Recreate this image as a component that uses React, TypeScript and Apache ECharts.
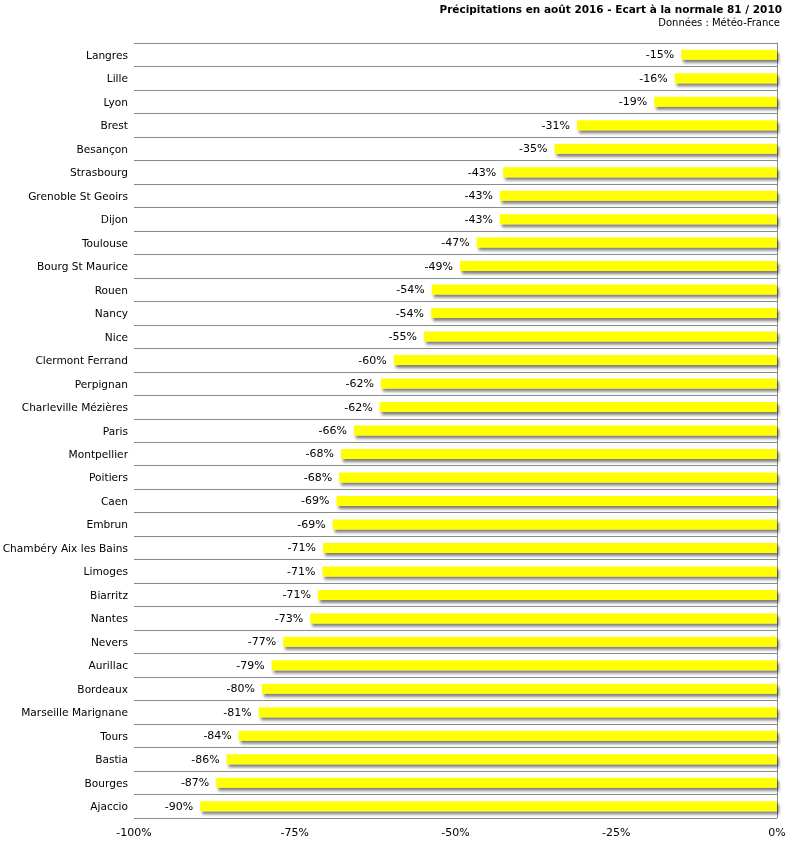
import React, { useEffect, useRef } from "react";
import * as echarts from "echarts";

const cities = [
  "Langres", "Lille", "Lyon", "Brest", "Besançon", "Strasbourg", "Grenoble St Geoirs", "Dijon",
  "Toulouse", "Bourg St Maurice", "Rouen", "Nancy", "Nice", "Clermont Ferrand", "Perpignan",
  "Charleville Mézières", "Paris", "Montpellier", "Poitiers", "Caen", "Embrun",
  "Chambéry Aix les Bains", "Limoges", "Biarritz", "Nantes", "Nevers", "Aurillac", "Bordeaux",
  "Marseille Marignane", "Tours", "Bastia", "Bourges", "Ajaccio",
];

const ecart = [
  -14.9, -15.9, -19.1, -31.1, -34.6, -42.6, -43.1, -43.1,
  -46.7, -49.3, -53.7, -53.8, -54.9, -59.6, -61.6,
  -61.8, -65.8, -67.8, -68.1, -68.5, -69.1,
  -70.6, -70.7, -71.4, -72.6, -76.8, -78.6, -80.1,
  -80.6, -83.7, -85.6, -87.2, -89.7,
];

const xTicks = [-100, -75, -50, -25, 0];

const titleText = "Précipitations en août 2016 - Ecart à la normale 81 / 2010";
const subtitleText = "Données : Météo-France";

const FONT = "'DejaVu Sans', Verdana, sans-serif";

export default function App() {
  const ref = useRef<HTMLDivElement>(null);
  useEffect(() => {
    const chart = echarts.init(ref.current!, null, { renderer: "svg" });
    chart.setOption({
      animation: false,
      textStyle: { fontFamily: FONT },
      grid: { left: 134, right: 22, top: 43, bottom: 23, outerBoundsMode: "none", containLabel: false },
      graphic: [
        {
          type: "text",
          x: 782,
          y: 3,
          style: {
            text: titleText,
            align: "right",
            verticalAlign: "top",
            font: `bold 10.5px ${FONT}`,
            fill: "#000",
          },
        },
        {
          type: "text",
          x: 780,
          y: 17,
          style: {
            text: subtitleText,
            align: "right",
            verticalAlign: "top",
            font: `10px ${FONT}`,
            fill: "#000",
          },
        },
      ],
      xAxis: {
        type: "value",
        min: xTicks[0],
        max: xTicks[xTicks.length - 1],
        interval: 25,
        axisLine: { show: false },
        axisTick: { show: false },
        splitLine: { show: false },
        axisLabel: {
          formatter: (v: number) => `${v}%`,
          color: "#000",
          fontSize: 11,
          fontFamily: FONT,
          margin: 9,
        },
      },
      yAxis: [
        {
          type: "category",
          data: cities,
          inverse: true,
          axisLine: { show: false },
          axisTick: { show: false },
          axisLabel: { color: "#000", fontSize: 10.6, fontFamily: FONT, margin: 6 },
          splitLine: { show: true, lineStyle: { color: "#8a8a8a", width: 1 } },
        },
        {
          type: "category",
          data: cities,
          inverse: true,
          position: "right",
          axisLine: { show: true, lineStyle: { color: "#8a8a8a", width: 1 } },
          axisTick: { show: false },
          axisLabel: { show: false },
          splitLine: { show: false },
        },
      ],
      series: [
        {
          type: "bar",
          data: ecart,
          barWidth: 10,
          itemStyle: {
            color: "#ffff00",
            shadowColor: "rgba(0,0,0,0.5)",
            shadowBlur: 3,
            shadowOffsetX: 2,
            shadowOffsetY: 3,
          },
          label: {
            show: true,
            position: "left",
            distance: 7,
            color: "#000",
            fontSize: 11,
            fontFamily: FONT,
            formatter: (p: any) => `-${Math.round(Math.abs(p.value))}%`,
          },
        },
      ],
    });
    return () => chart.dispose();
  }, []);
  return (
    <div
      ref={ref}
      style={{ position: "fixed", left: 0, top: 0, width: 799, height: 841 }}
    />
  );
}
